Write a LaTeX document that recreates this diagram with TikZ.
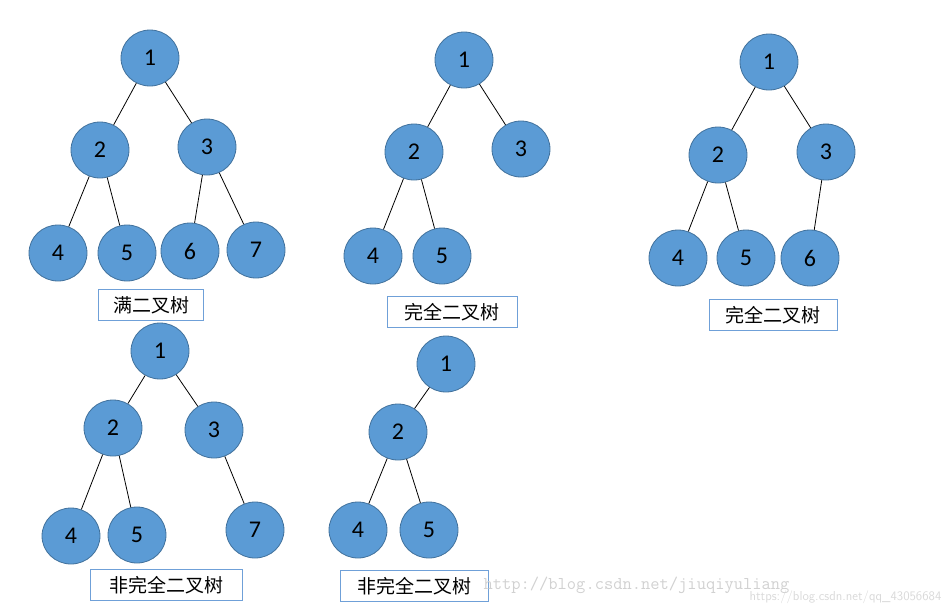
\documentclass[tikz,border=0pt]{standalone}
\usepackage{fontspec}
\setmainfont{Carlito}
\newfontfamily\cjk{Noto Sans CJK SC}
\definecolor{nfill}{HTML}{5B9BD5}
\definecolor{nline}{HTML}{41719C}
\definecolor{lbox}{HTML}{6FA0D8}
\begin{document}
\begin{tikzpicture}[x=1pt,y=-1pt,
  nd/.style={ellipse,minimum width=58pt,minimum height=56pt,inner sep=0pt,fill=nfill,draw=nline,line width=0.8pt,font=\fontsize{24}{24}\selectfont},
  lb/.style={draw=lbox,line width=1pt,minimum height=31pt,inner sep=3pt,font=\cjk\fontsize{19}{19}\selectfont},
  ed/.style={line width=0.8pt}]
\usetikzlibrary{shapes.geometric}
\useasboundingbox (0,0) rectangle (950,614);
% tree 1
\node[nd] (a1) at (150,58) {1};
\node[nd] (a2) at (100,150) {2};
\node[nd] (a3) at (207,147) {3};
\node[nd] (a4) at (58,253) {4};
\node[nd] (a5) at (127,253) {5};
\node[nd] (a6) at (190,251) {6};
\node[nd] (a7) at (256,250) {7};
\draw[ed] (a1)--(a2) (a1)--(a3) (a2)--(a4) (a2)--(a5) (a3)--(a6) (a3)--(a7);
\node[lb,minimum width=105pt] (la) at (151,305) {满二叉树};
% tree 2
\node[nd] (b1) at (464,60) {1};
\node[nd] (b2) at (414,152) {2};
\node[nd] (b3) at (521,149) {3};
\node[nd] (b4) at (373,256) {4};
\node[nd] (b5) at (442,256) {5};
\draw[ed] (b1)--(b2) (b1)--(b3) (b2)--(b4) (b2)--(b5);
\node[lb,minimum width=130pt] (lb2) at (452,312) {完全二叉树};
% tree 3
\node[nd] (c1) at (769,62) {1};
\node[nd] (c2) at (718,155) {2};
\node[nd] (c3) at (826,152) {3};
\node[nd] (c4) at (678,258) {4};
\node[nd] (c5) at (746,258) {5};
\node[nd] (c6) at (810,258) {6};
\draw[ed] (c1)--(c2) (c1)--(c3) (c2)--(c4) (c2)--(c5) (c3)--(c6);
\node[lb,minimum width=128pt] (lc) at (773,315) {完全二叉树};
% tree 4
\node[nd] (d1) at (160,351) {1};
\node[nd] (d2) at (113,428) {2};
\node[nd] (d3) at (214,430) {3};
\node[nd] (d4) at (71,536) {4};
\node[nd] (d5) at (137,535) {5};
\node[nd] (d7) at (255,530) {7};
\draw[ed] (d1)--(d2) (d1)--(d3) (d2)--(d4) (d2)--(d5) (d3)--(d7);
\node[lb,minimum width=152pt] (ld) at (166,585) {非完全二叉树};
% tree 5
\node[nd] (e1) at (446,364) {1};
\node[nd] (e2) at (398,432) {2};
\node[nd] (e4) at (358,530) {4};
\node[nd] (e5) at (429,530) {5};
\draw[ed] (e1)--(e2) (e2)--(e4) (e2)--(e5);
\node[lb,minimum width=148pt] (le) at (414,586) {非完全二叉树};
% watermarks
\node[text=black!18,font=\ttfamily\fontsize{18}{18}\selectfont,anchor=west] (w1) at (480,585) {http://blog.csdn.net/jiuqiyuliang};
\node[text=black!15,font=\sffamily\fontsize{13}{13}\selectfont,anchor=east] (w2) at (945,597) {https://blog.csdn.net/qq\_43056684};
\end{tikzpicture}
\end{document}
